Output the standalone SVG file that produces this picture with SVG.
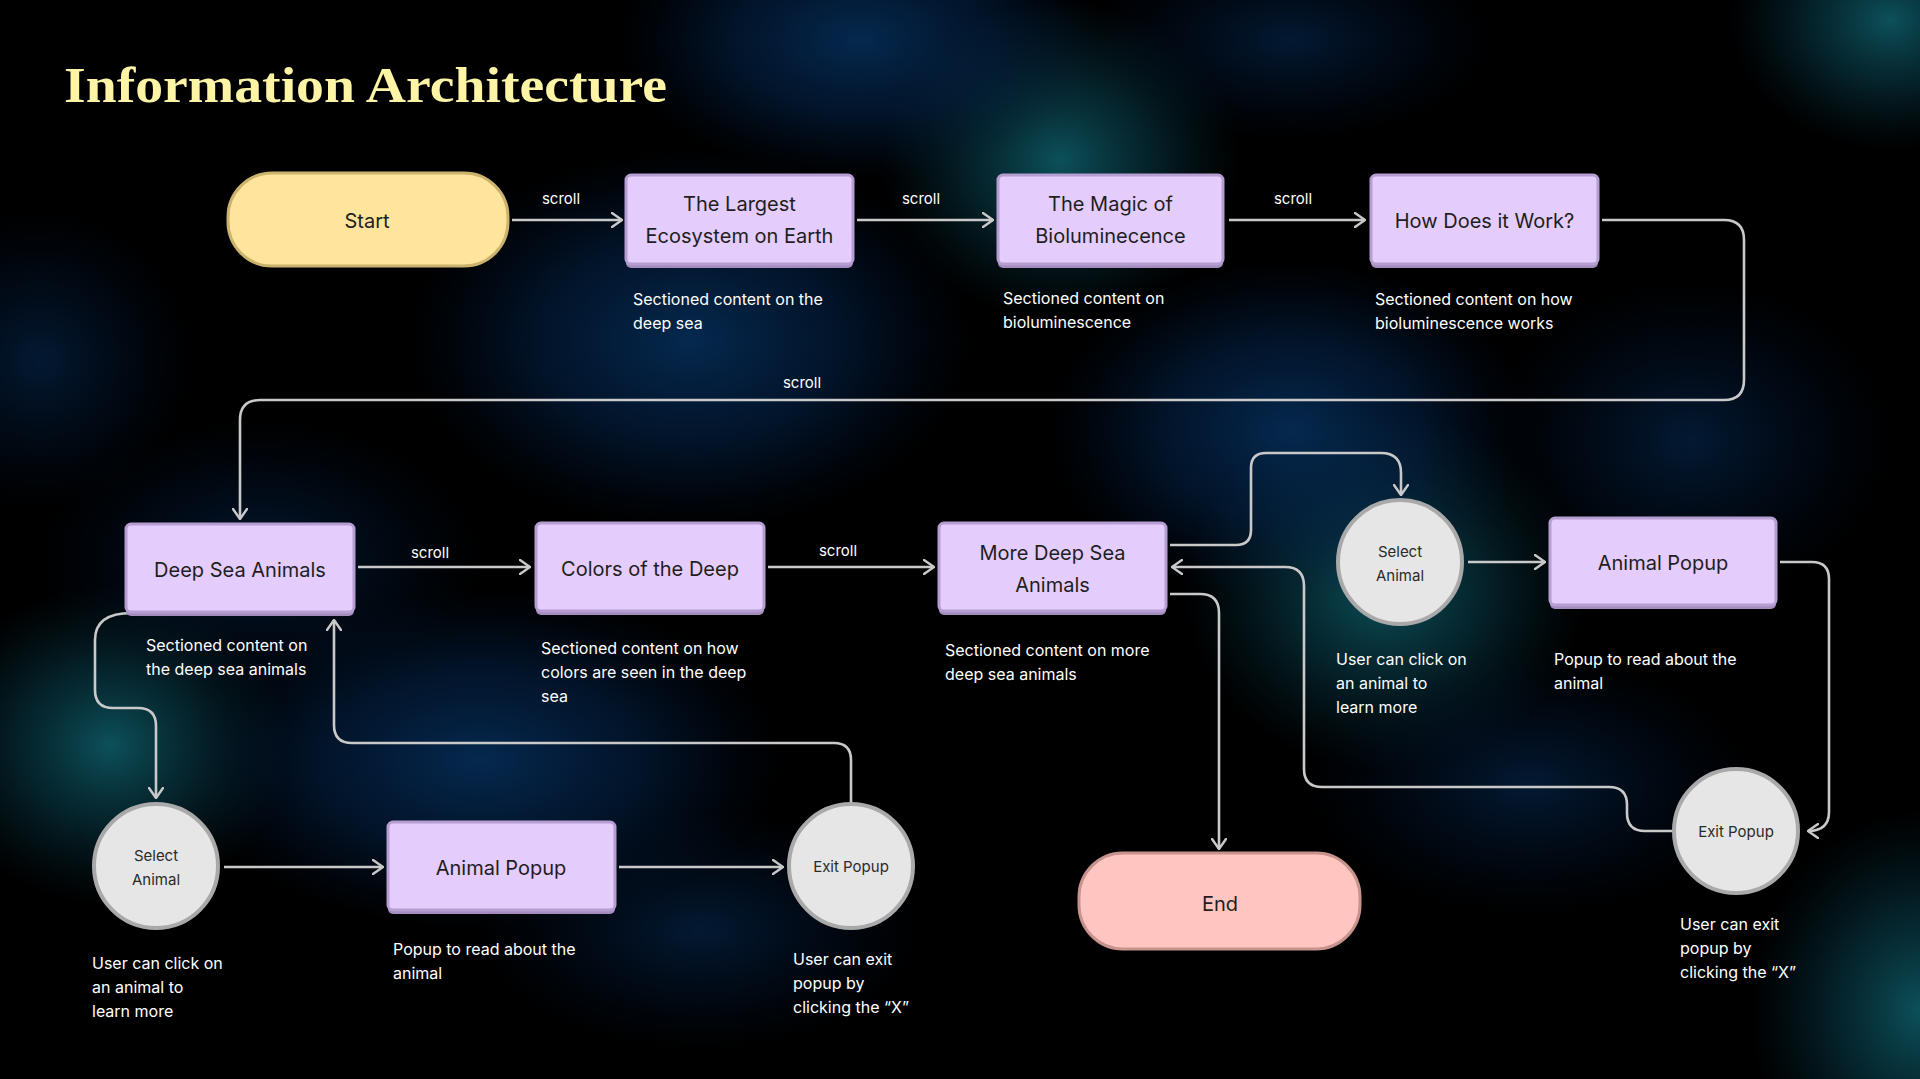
<svg xmlns="http://www.w3.org/2000/svg" width="1920" height="1079" viewBox="0 0 1920 1079">
<defs>
<radialGradient id="gTeal"><stop offset="0" stop-color="#0e5a64" stop-opacity="0.9"/><stop offset="0.5" stop-color="#0a4352" stop-opacity="0.5"/><stop offset="1" stop-color="#06303e" stop-opacity="0"/></radialGradient>
<radialGradient id="gBlue"><stop offset="0" stop-color="#06305c" stop-opacity="0.85"/><stop offset="0.55" stop-color="#042650" stop-opacity="0.5"/><stop offset="1" stop-color="#021a3a" stop-opacity="0"/></radialGradient>
<radialGradient id="gDeep"><stop offset="0" stop-color="#042244" stop-opacity="0.75"/><stop offset="1" stop-color="#021530" stop-opacity="0"/></radialGradient>
<marker id="arr" viewBox="0 0 12 16" refX="11" refY="8" markerWidth="12" markerHeight="16" markerUnits="userSpaceOnUse" orient="auto">
<path d="M1,1 L11,8 L1,15" fill="none" stroke="#c9c9c9" stroke-width="2.4" stroke-linecap="round" stroke-linejoin="round"/>
</marker>
<style>
.box{fill:#e4ccfc;stroke:#b69dd2;stroke-width:3}
.shadow{fill:#a58cbf}
.circ{fill:#e6e6e6;stroke:#a9a9a9;stroke-width:4}
.nt{font-family:Inter,"Noto Sans","Liberation Sans",sans-serif;font-size:20px;fill:#1e1e1e;text-anchor:middle}
.ct{font-family:Inter,"Noto Sans","Liberation Sans",sans-serif;font-size:15px;fill:#2a2a2a;text-anchor:middle}
.desc{font-family:Inter,"Noto Sans","Liberation Sans",sans-serif;font-size:16px;fill:#ffffff}
.lbl{font-family:Inter,"Noto Sans","Liberation Sans",sans-serif;font-size:15px;fill:#ffffff;text-anchor:middle}
.con{fill:none;stroke:#c9c9c9;stroke-width:2.6;marker-end:url(#arr)}
</style>
</defs>
<g id="background">
<rect x="0" y="0" width="1920" height="1079" fill="#000"/>
<ellipse cx="1060" cy="160" rx="180" ry="160" fill="url(#gTeal)"/>
<ellipse cx="860" cy="40" rx="240" ry="140" fill="url(#gBlue)"/>
<ellipse cx="690" cy="340" rx="280" ry="190" fill="url(#gBlue)"/>
<ellipse cx="1384" cy="590" rx="200" ry="180" fill="url(#gTeal)"/>
<ellipse cx="1290" cy="430" rx="240" ry="170" fill="url(#gBlue)"/>
<ellipse cx="110" cy="745" rx="180" ry="160" fill="url(#gTeal)"/>
<ellipse cx="480" cy="760" rx="300" ry="170" fill="url(#gBlue)"/>
<ellipse cx="1890" cy="20" rx="160" ry="130" fill="url(#gTeal)"/>
<ellipse cx="1920" cy="1010" rx="170" ry="200" fill="url(#gTeal)"/>
<ellipse cx="1690" cy="440" rx="200" ry="160" fill="url(#gDeep)"/>
<ellipse cx="40" cy="360" rx="150" ry="150" fill="url(#gDeep)"/>
<ellipse cx="1530" cy="785" rx="220" ry="130" fill="url(#gDeep)"/>
<ellipse cx="700" cy="930" rx="220" ry="120" fill="url(#gDeep)"/>
<ellipse cx="1290" cy="40" rx="200" ry="100" fill="url(#gDeep)"/>
<ellipse cx="260" cy="560" rx="220" ry="140" fill="url(#gDeep)"/>
</g>
<text id="title" x="64" y="102" font-family="'Liberation Serif','DejaVu Serif',serif" font-weight="bold" font-size="50" fill="#fdf4a6" textLength="603" lengthAdjust="spacingAndGlyphs">Information Architecture</text>
<g id="connectors">
<path class="con" d="M512,220 H622"/>
<path class="con" d="M857,220 H993"/>
<path class="con" d="M1229,220 H1365"/>
<path class="con" d="M1602,220 H1724 Q1744,220 1744,240 V380 Q1744,400 1724,400 H260 Q240,400 240,420 V519"/>
<path class="con" d="M358,567 H530"/>
<path class="con" d="M768,567 H934"/>
<path class="con" d="M1170,545 H1236 Q1251,545 1251,530 V468 Q1251,453 1266,453 H1381 Q1401,453 1401,473 V495"/>
<path class="con" d="M1468,562 H1545"/>
<path class="con" d="M1780,562 H1812 Q1829,562 1829,579 V812 Q1829,831 1808,831"/>
<path class="con" d="M1672,831 H1645 Q1627,831 1627,813 V805 Q1627,787 1609,787 H1322 Q1304,787 1304,769 V586 Q1304,567 1285,567 H1172"/>
<path class="con" d="M1170,594 H1200 Q1219,594 1219,613 V849"/>
<path class="con" d="M132,613 Q95,613 95,640 V690 Q95,708 113,708 H138 Q156,708 156,726 V798"/>
<path class="con" d="M224,867 H383"/>
<path class="con" d="M619,867 H783"/>
<path class="con" d="M851,804 V760 Q851,743 834,743 H352 Q334,743 334,725 V620"/>
<text class="lbl" x="561" y="204">scroll</text>
<text class="lbl" x="921" y="204">scroll</text>
<text class="lbl" x="1293" y="204">scroll</text>
<text class="lbl" x="802" y="388">scroll</text>
<text class="lbl" x="430" y="558">scroll</text>
<text class="lbl" x="838" y="556">scroll</text>
</g>
<g id="start">
<rect x="228" y="173" width="280" height="93" rx="44" fill="#ffe59b" stroke="#cbb36e" stroke-width="3"/>
<text class="nt" x="367" y="228" font-size="22">Start</text>
</g>
<g id="largest">
<rect class="shadow" x="626" y="178" width="227" height="90" rx="5"/>
<rect class="box" x="626" y="175" width="227" height="89" rx="5"/>
<text class="nt" x="739.5" y="211">The Largest</text>
<text class="nt" x="739.5" y="243">Ecosystem on Earth</text>
<text class="desc" x="633" y="305">Sectioned content on the</text>
<text class="desc" x="633" y="329">deep sea</text>
</g>
<g id="magic">
<rect class="shadow" x="998" y="178" width="225" height="90" rx="5"/>
<rect class="box" x="998" y="175" width="225" height="89" rx="5"/>
<text class="nt" x="1110.5" y="211">The Magic of</text>
<text class="nt" x="1110.5" y="243">Bioluminecence</text>
<text class="desc" x="1003" y="304">Sectioned content on</text>
<text class="desc" x="1003" y="328">bioluminescence</text>
</g>
<g id="how">
<rect class="shadow" x="1371" y="178" width="227" height="90" rx="5"/>
<rect class="box" x="1371" y="175" width="227" height="89" rx="5"/>
<text class="nt" x="1484.5" y="228">How Does it Work?</text>
<text class="desc" x="1375" y="305">Sectioned content on how</text>
<text class="desc" x="1375" y="329">bioluminescence works</text>
</g>
<g id="deepsea">
<rect class="shadow" x="126" y="527" width="228" height="89" rx="5"/>
<rect class="box" x="126" y="524" width="228" height="88" rx="5"/>
<text class="nt" x="240" y="577">Deep Sea Animals</text>
<text class="desc" x="146" y="651">Sectioned content on</text>
<text class="desc" x="146" y="675">the deep sea animals</text>
</g>
<g id="colors">
<rect class="shadow" x="536" y="526" width="228" height="89" rx="5"/>
<rect class="box" x="536" y="523" width="228" height="88" rx="5"/>
<text class="nt" x="650" y="576">Colors of the Deep</text>
<text class="desc" x="541" y="654">Sectioned content on how</text>
<text class="desc" x="541" y="678">colors are seen in the deep</text>
<text class="desc" x="541" y="702">sea</text>
</g>
<g id="more">
<rect class="shadow" x="939" y="526" width="227" height="89" rx="5"/>
<rect class="box" x="939" y="523" width="227" height="88" rx="5"/>
<text class="nt" x="1052.5" y="560">More Deep Sea</text>
<text class="nt" x="1052.5" y="592">Animals</text>
<text class="desc" x="945" y="656">Sectioned content on more</text>
<text class="desc" x="945" y="680">deep sea animals</text>
</g>
<g id="select-right">
<circle class="circ" cx="1400" cy="562" r="62"/>
<text class="ct" x="1400" y="557">Select</text>
<text class="ct" x="1400" y="581">Animal</text>
<text class="desc" x="1336" y="665">User can click on</text>
<text class="desc" x="1336" y="689">an animal to</text>
<text class="desc" x="1336" y="713">learn more</text>
</g>
<g id="popup-right">
<rect class="shadow" x="1550" y="521" width="226" height="88" rx="5"/>
<rect class="box" x="1550" y="518" width="226" height="87" rx="5"/>
<text class="nt" x="1663" y="570">Animal Popup</text>
<text class="desc" x="1554" y="665">Popup to read about the</text>
<text class="desc" x="1554" y="689">animal</text>
</g>
<g id="exit-right">
<circle class="circ" cx="1736" cy="831" r="62"/>
<text class="ct" x="1736" y="837">Exit Popup</text>
<text class="desc" x="1680" y="930">User can exit</text>
<text class="desc" x="1680" y="954">popup by</text>
<text class="desc" x="1680" y="978">clicking the “X”</text>
</g>
<g id="end">
<rect x="1079" y="853" width="281" height="96" rx="44" fill="#ffc6c1" stroke="#c8938d" stroke-width="3"/>
<text class="nt" x="1220" y="911" font-size="22">End</text>
</g>
<g id="select-left">
<circle class="circ" cx="156" cy="866" r="62"/>
<text class="ct" x="156" y="861">Select</text>
<text class="ct" x="156" y="885">Animal</text>
<text class="desc" x="92" y="969">User can click on</text>
<text class="desc" x="92" y="993">an animal to</text>
<text class="desc" x="92" y="1017">learn more</text>
</g>
<g id="popup-left">
<rect class="shadow" x="388" y="825" width="227" height="89" rx="5"/>
<rect class="box" x="388" y="822" width="227" height="88" rx="5"/>
<text class="nt" x="501" y="875">Animal Popup</text>
<text class="desc" x="393" y="955">Popup to read about the</text>
<text class="desc" x="393" y="979">animal</text>
</g>
<g id="exit-left">
<circle class="circ" cx="851" cy="866" r="62"/>
<text class="ct" x="851" y="872">Exit Popup</text>
<text class="desc" x="793" y="965">User can exit</text>
<text class="desc" x="793" y="989">popup by</text>
<text class="desc" x="793" y="1013">clicking the “X”</text>
</g>
</svg>
